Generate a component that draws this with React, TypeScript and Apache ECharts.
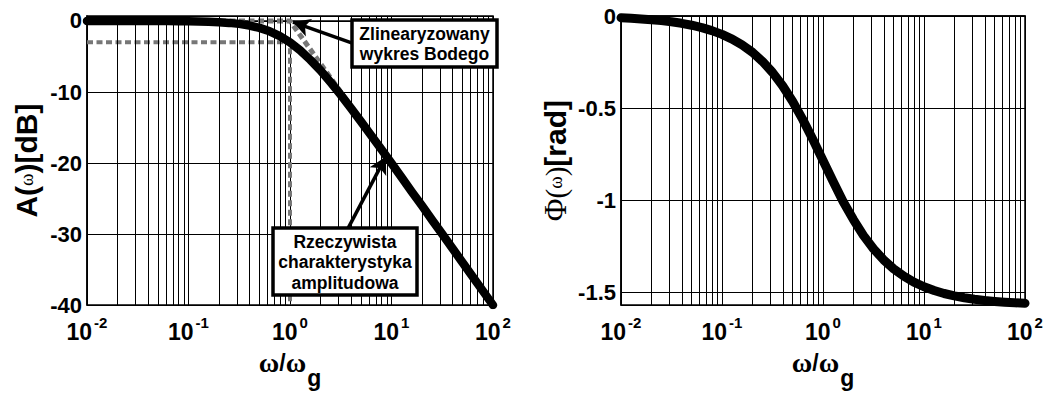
import React, { useEffect, useRef } from "react";
import * as echarts from "echarts";

// ω/ωg sample points (log axis, 10 per decade)
const omega = [
  0.01, 0.0126, 0.0158, 0.02, 0.0251, 0.0316, 0.0398, 0.0501, 0.0631, 0.0794,
  0.1, 0.126, 0.158, 0.2, 0.251, 0.316, 0.398, 0.501, 0.631, 0.794,
  1, 1.26, 1.58, 2, 2.51, 3.16, 3.98, 5.01, 6.31, 7.94,
  10, 12.6, 15.8, 20, 25.1, 31.6, 39.8, 50.1, 63.1, 79.4, 100,
];
// A(ω) [dB] – actual amplitude characteristic
const amplitudeDb = [
  0, 0, 0, 0, 0, 0, -0.01, -0.01, -0.02, -0.03,
  -0.04, -0.07, -0.11, -0.17, -0.27, -0.41, -0.64, -0.97, -1.46, -2.13,
  -3.01, -4.13, -5.46, -6.97, -8.64, -10.41, -12.27, -14.17, -16.11, -18.07,
  -20.04, -22.03, -24.02, -26.01, -28.01, -30, -32, -34, -36, -38, -40,
];
// Φ(ω) [rad]
const phaseRad = [
  -0.01, -0.0126, -0.0158, -0.02, -0.0251, -0.0316, -0.0398, -0.0501, -0.063, -0.0793,
  -0.0997, -0.1252, -0.1572, -0.197, -0.2461, -0.3063, -0.3789, -0.4646, -0.5629, -0.6713,
  -0.7854, -0.8995, -1.0079, -1.1062, -1.1919, -1.2645, -1.3247, -1.3738, -1.4136, -1.4456,
  -1.4711, -1.4915, -1.5078, -1.5207, -1.531, -1.5392, -1.5457, -1.5508, -1.555, -1.5582, -1.5608,
];
// linearized Bode plot
const bodeOmega = [0.01, 1, 100];
const bodeDb = [0, 0, -40];
// -3 dB guide lines
const guideOmega = [0.01, 1, 1];
const guideDb = [-3, -3, -40];
// minor (log) grid positions
const minorOmega = [
  0.02, 0.03, 0.04, 0.05, 0.06, 0.07, 0.08, 0.09,
  0.2, 0.3, 0.4, 0.5, 0.6, 0.7, 0.8, 0.9,
  2, 3, 4, 5, 6, 7, 8, 9,
  20, 30, 40, 50, 60, 70, 80, 90,
];
// arrow anchors [tail, tip] in data space
const arrowLinear = [[4.9, -3.5], [1.07, -0.15]];
const arrowActual = [[3.48, -30.0], [8.8, -19.1]];
// annotation texts
const noteLinear = "Zlinearyzowany\nwykres Bodego";
const noteActual = "Rzeczywista\ncharakterystyka\namplitudowa";
// axis extents
const xTickBase = "10";
const phaseMin = -1.5708;
const ampMax = 0.7;
const ampMin = -40;

const SANS = "Liberation Sans";
const SERIF = "Liberation Serif";

const pairs = (xs: number[], ys: number[]) => xs.map((x, i) => [x, ys[i]]);

function xAxisFor(gridIndex: number) {
  return {
    type: "log",
    gridIndex,
    logBase: 10,
    min: 0.01,
    max: 100,
    splitNumber: 4,
    name: "{w|ω}{s|/}{w|ω}{g|g}",
    nameLocation: "middle",
    nameGap: 25,
    nameTextStyle: {
      rich: {
        w: { fontFamily: SERIF, fontSize: 28, fontWeight: "bold", color: "#000" },
        s: { fontFamily: SANS, fontSize: 23, fontWeight: "bold", color: "#000" },
        g: { fontFamily: SANS, fontSize: 23, fontWeight: "bold", color: "#000", padding: [30, 0, 0, 1] },
      },
    },
    axisLine: { show: true, lineStyle: { color: "#000", width: 1.5 } },
    axisTick: { show: false },
    splitLine: { show: true, lineStyle: { color: "#000", width: 1 } },
    axisLabel: {
      margin: 10,
      formatter: (v: number) => `{b|${xTickBase}}{s|${Math.round(Math.log10(v))}}`,
      rich: {
        b: { fontFamily: SANS, fontSize: 23, fontWeight: "bold", color: "#000", lineHeight: 34 },
        s: { fontFamily: SANS, fontSize: 15, fontWeight: "bold", color: "#000", verticalAlign: "top", lineHeight: 15, padding: [0, 0, 0, 2] },
      },
    },
  };
}

const yLabelStyle = { fontFamily: SANS, fontSize: 22, fontWeight: "bold", color: "#000", margin: 5 };

function minorGridSeries(xAxisIndex: number, data: number[][]) {
  return {
    type: "line",
    xAxisIndex,
    yAxisIndex: xAxisIndex,
    data,
    symbol: "none",
    silent: true,
    z: 1,
    lineStyle: { opacity: 0 },
    markLine: {
      silent: true,
      symbol: ["none", "none"],
      label: { show: false },
      lineStyle: { color: "#000", width: 1, type: "solid" },
      emphasis: { disabled: true },
      data: minorOmega.map((v) => ({ xAxis: v })),
    },
  };
}

export default function App() {
  const ref = useRef<HTMLDivElement>(null);
  useEffect(() => {
    const chart = echarts.init(ref.current!, null, { renderer: "svg" });
    const option = {
      animation: false,
      backgroundColor: "#fff",
      grid: [
        { left: 87, top: 16, width: 406, height: 290, show: true, borderColor: "#000", borderWidth: 1.5, backgroundColor: "transparent" },
        { left: 621, top: 16, width: 404, height: 290, show: true, borderColor: "#000", borderWidth: 1.5, backgroundColor: "transparent" },
      ],
      xAxis: [xAxisFor(0), xAxisFor(1)],
      yAxis: [
        {
          type: "value",
          gridIndex: 0,
          min: ampMin,
          max: ampMax,
          interval: 10,
          name: "{a|A(}{w|ω}{a|)[dB]}",
          nameLocation: "middle",
          nameRotate: 90,
          nameGap: 46,
          nameTextStyle: {
            rich: {
              a: { fontFamily: SANS, fontSize: 30, fontWeight: "bold", color: "#000" },
              w: { fontFamily: SERIF, fontSize: 19, color: "#000" },
            },
          },
          axisLine: { show: true, lineStyle: { color: "#000", width: 1.5 } },
          axisTick: { show: false },
          splitLine: { show: true, lineStyle: { color: "#000", width: 1 } },
          axisLabel: {
            ...yLabelStyle,
            formatter: (v: number) => (Math.abs(v / 10 - Math.round(v / 10)) < 1e-6 ? String(Math.round(v)) : ""),
          },
        },
        {
          type: "value",
          gridIndex: 1,
          min: phaseMin,
          max: 0,
          splitNumber: 3,
          minInterval: 0.5,
          maxInterval: 0.5,
          name: "{f|Φ}{p|(}{w|ω}{p|)}{a|[rad]}",
          nameLocation: "middle",
          nameRotate: 90,
          nameGap: 50,
          nameTextStyle: {
            rich: {
              f: { fontFamily: SERIF, fontSize: 31, color: "#000" },
              p: { fontFamily: SERIF, fontSize: 29, color: "#000" },
              w: { fontFamily: SERIF, fontSize: 19, color: "#000" },
              a: { fontFamily: SANS, fontSize: 30, fontWeight: "bold", color: "#000" },
            },
          },
          axisLine: { show: true, lineStyle: { color: "#000", width: 1.5 } },
          axisTick: { show: false },
          splitLine: { show: true, lineStyle: { color: "#000", width: 1 } },
          axisLabel: {
            ...yLabelStyle,
            formatter: (v: number) => (Math.abs(v * 2 - Math.round(v * 2)) < 1e-6 ? String(Math.round(v * 2) / 2) : ""),
          },
        },
      ],
      series: [
        minorGridSeries(0, pairs(omega, amplitudeDb)),
        {
          type: "line",
          xAxisIndex: 0,
          yAxisIndex: 0,
          data: pairs(guideOmega, guideDb),
          symbol: "none",
          silent: true,
          z: 2,
          lineStyle: { color: "#777", width: 4, type: [6, 3.5] },
        },
        {
          type: "line",
          xAxisIndex: 0,
          yAxisIndex: 0,
          data: pairs(bodeOmega, bodeDb),
          symbol: "none",
          silent: true,
          z: 2,
          lineStyle: { color: "#777", width: 5, type: [6, 3.5] },
        },
        {
          type: "line",
          xAxisIndex: 0,
          yAxisIndex: 0,
          data: pairs(omega, amplitudeDb),
          symbol: "none",
          smooth: false,
          silent: true,
          z: 3,
          lineStyle: { color: "#000", width: 8.5, join: "round", cap: "round" },
          markLine: {
            silent: true,
            symbol: ["none", "arrow"],
            symbolSize: [14, 17],
            label: { show: false },
            emphasis: { disabled: true },
            lineStyle: { color: "#000", width: 3.5, type: "solid" },
            data: [
              [{ coord: arrowLinear[0] }, { coord: arrowLinear[1] }],
              [{ coord: arrowActual[0] }, { coord: arrowActual[1] }],
            ],
          },
        },
        minorGridSeries(1, pairs(omega, phaseRad)),
        {
          type: "line",
          xAxisIndex: 1,
          yAxisIndex: 1,
          data: pairs(omega, phaseRad),
          symbol: "none",
          smooth: false,
          silent: true,
          z: 3,
          lineStyle: { color: "#000", width: 9, join: "round", cap: "round" },
        },
      ],
      graphic: [
        {
          type: "rect",
          z: 100,
          shape: { x: 352, y: 20, width: 145, height: 47 },
          style: { fill: "#fff", stroke: "#000", lineWidth: 3.5 },
        },
        {
          type: "text",
          z: 101,
          x: 424.5,
          y: 43.5,
          style: {
            text: noteLinear,
            align: "center",
            verticalAlign: "middle",
            fontFamily: SANS,
            fontSize: 17.5,
            fontWeight: "bold",
            lineHeight: 20,
            fill: "#000",
          },
        },
        {
          type: "rect",
          z: 100,
          shape: { x: 273, y: 228, width: 144, height: 67 },
          style: { fill: "#fff", stroke: "#000", lineWidth: 3.5 },
        },
        {
          type: "text",
          z: 101,
          x: 345,
          y: 262,
          style: {
            text: noteActual,
            align: "center",
            verticalAlign: "middle",
            fontFamily: SANS,
            fontSize: 17.5,
            fontWeight: "bold",
            lineHeight: 20.5,
            fill: "#000",
          },
        },
      ],
    };
    chart.setOption(option as any);
    return () => chart.dispose();
  }, []);
  return <div ref={ref} style={{ position: "absolute", left: 0, top: 0, width: 1047, height: 394 }} />;
}
